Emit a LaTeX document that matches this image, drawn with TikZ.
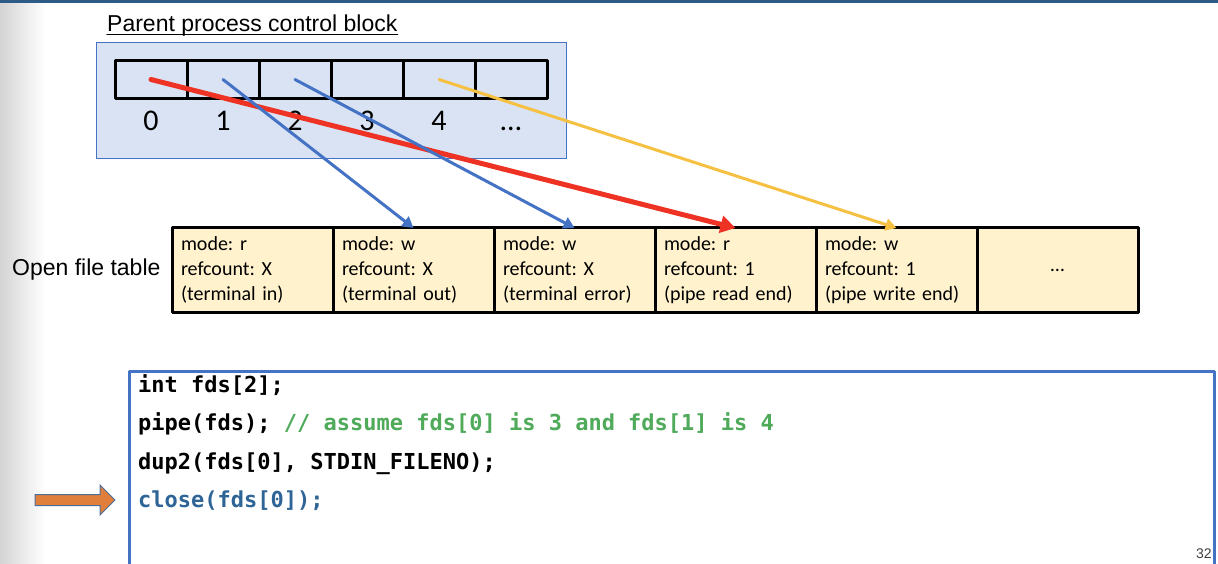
\documentclass[tikz,border=0pt]{standalone}
\usepackage{fontspec}
\setmainfont{Liberation Sans}
\newfontfamily\cellfont{Carlito}
\newfontfamily\codefont{DejaVu Sans Mono}
\usetikzlibrary{arrows.meta,positioning}
\definecolor{pcbfill}{HTML}{DAE3F3}
\definecolor{officeblue}{HTML}{4472C4}
\definecolor{oftfill}{HTML}{FFF2CC}
\definecolor{pipered}{HTML}{EE3224}
\definecolor{pipeyellow}{HTML}{F6C142}
\definecolor{commentgreen}{HTML}{4FAA5A}
\definecolor{curblue}{HTML}{2E6496}
\definecolor{curorange}{HTML}{E07E3C}
\definecolor{curedge}{HTML}{4A6F9A}
\definecolor{topbar}{HTML}{2E5A86}
\definecolor{pagenum}{HTML}{404040}
\frenchspacing
\begin{document}
\begin{tikzpicture}[x=1pt, y=-1pt, line cap=round, line join=round, >={Triangle[length=11pt,width=12pt]}]
			\tikzset{fdcell/.style={draw, line width=3, minimum width=72, minimum height=38, inner sep=0, outer sep=0},
				fdlabel/.style={anchor=base, inner sep=0, font=\cellfont\fontsize{30}{34}\selectfont},
				oftcell/.style={draw, line width=3, fill=oftfill, minimum height=84, text width=143, inner xsep=9, inner ysep=0, outer sep=0, align=left, font=\cellfont\fontsize{20}{25}\selectfont},
				codeline/.style={anchor=base west, inner sep=0, font=\codefont\bfseries\fontsize{22}{26}\selectfont},
				fdptr/.style={->, line width=3}}
			\useasboundingbox (0,0) rectangle (1218,564);
			\clip (0,0) rectangle (1218,564);
			\fill[white] (0,0) rectangle (1218,564);
			\shade[left color=black!17, right color=white] (0,0) rectangle (45,564);
			\fill[topbar] (0,0) rectangle (1218,3.5);
			% process control block
			\node[anchor=base west, inner sep=0, font=\fontsize{23}{28}\selectfont] (title) at (107,32) {Parent process control block};
			\draw[line width=1.3] ([yshift=-2.5pt]title.base west) -- ([yshift=-2.5pt]title.base east);
			\node[draw=officeblue, line width=1, fill=pcbfill, minimum width=470, minimum height=116, anchor=north west] (pcb) at (96,42) {};
			\foreach \i in {0,...,5}
				\node[fdcell] (fd\i) at ({151+72*\i},79.5) {};
			\foreach \i/\t in {0/0,1/1,2/2,3/3,4/4,5/…}
				\node[fdlabel] (fdl\i) at ({151+72*\i},131) {\t};
			% open file table
			\foreach \i/\m/\r/\d in {0/r/X/terminal in,1/w/X/terminal out,2/w/X/terminal error,3/r/1/pipe read end,4/w/1/pipe write end}
				\node[oftcell] (oft\i) at ({252.5+161*\i},270) {mode: \m\\refcount: \r\\(\d)};
			\node[oftcell, align=center] (oft5) at ({252.5+161*5},270) {…};
			\node[left=8pt of oft0, font=\fontsize{23}{28}\selectfont] (ofttitle) {Open file table};
			% code
			\node[anchor=north west, inner sep=0, font=\fontsize{14}{16}\selectfont, text=pagenum] (page) at (1196,549) {32};
			\node[draw=officeblue, line width=2.5, minimum width=1085, minimum height=260, anchor=north west] (code) at (128,370) {};
			\node[codeline] (code1) at (138,392) {int fds[2];};
			\node[codeline] (code2) at (138,430.5) {pipe(fds); \textcolor{commentgreen}{// assume fds[0] is 3 and fds[1] is 4}};
			\node[codeline] (code3) at (138,469) {dup2(fds[0], STDIN\_FILENO);};
			\node[codeline, text=curblue] (code4) at (138,507.5) {close(fds[0]);};
			\draw[fill=curorange, draw=curedge, line width=1, line join=miter] (35,494.5) -- (100,494.5) -- (100,485) -- (115,500) -- (100,515) -- (100,505.5) -- (35,505.5) -- cycle;
			% descriptors
			\draw[pipered, line width=5, -{Triangle[length=15pt,width=17pt]}] (fd0.center) -- (oft3.north);
			\draw[fdptr, officeblue] (fd1.center) -- (oft1.north);
			\draw[fdptr, officeblue] (fd2.center) -- (oft2.north);
			\draw[fdptr, pipeyellow] (fd4.center) -- (oft4.north);
	\end{tikzpicture}
\end{document}
